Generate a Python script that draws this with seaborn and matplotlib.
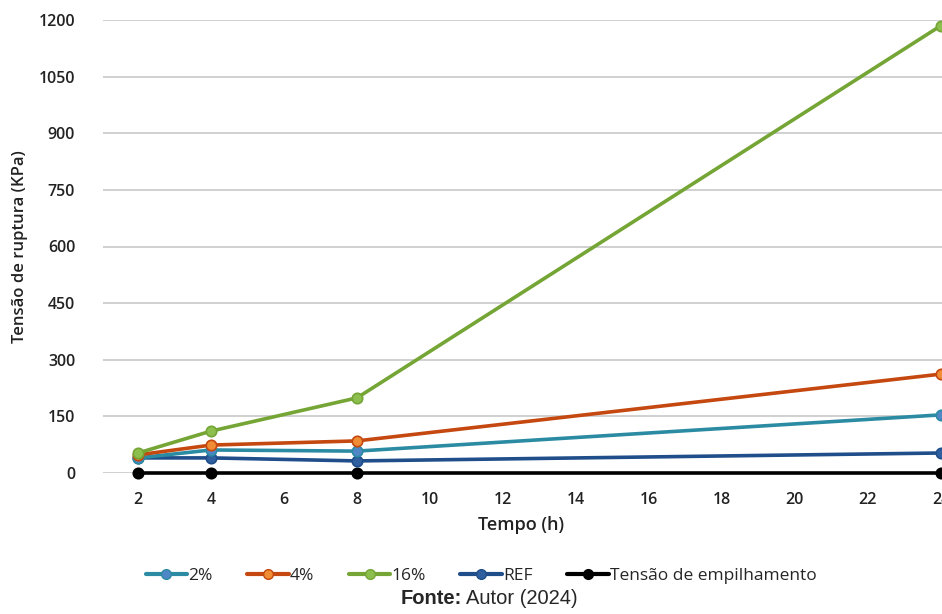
import matplotlib
matplotlib.use("Agg")
import matplotlib.pyplot as plt
import seaborn as sns
import pandas as pd

# ── data ───────────────────────────────────────────────────────────────────────
tempo = [2, 4, 8, 24]
s_2pct = [40, 61, 58, 154]
s_4pct = [48, 74, 85, 262]
s_16pct = [53, 111, 199, 1185]
s_ref = [40, 40, 32, 53]
s_empilh = [0, 0, 0, 0]

series_names = ["2%", "4%", "16%", "REF", "Tensão de empilhamento"]
line_colors = ["#2b8ba3", "#c4480f", "#74a535", "#1f4e8a", "#000000"]
marker_colors = ["#4f86c6", "#f08c34", "#8cbf4e", "#2f5f9e", "#000000"]

x_ticks = list(range(2, 25, 2))
y_ticks = list(range(0, 1201, 150))

df = pd.DataFrame({
    "Tempo": tempo * 5,
    "Tensao": s_2pct + s_4pct + s_16pct + s_ref + s_empilh,
    "Serie": [n for n in series_names for _ in tempo],
})

sns.set_style("white")
plt.rcParams["font.family"] = ["Open Sans", "DejaVu Sans"]

fig = plt.figure(figsize=(9.42, 6.14), dpi=100)
ax = fig.add_axes([103 / 942, 1 - 473 / 614, 1 - 103 / 942, (473 - 20) / 614])

# draw order: black baseline first, then REF, 2%, 4%, 16% on top
order = ["Tensão de empilhamento", "REF", "2%", "4%", "16%"]
for name in order:
    i = series_names.index(name)
    sub = df[df["Serie"] == name]
    sns.lineplot(
        data=sub, x="Tempo", y="Tensao", ax=ax,
        color=line_colors[i], lw=2.6, marker="o", markersize=7.5,
        markerfacecolor=marker_colors[i], markeredgecolor=line_colors[i],
        markeredgewidth=1.2, clip_on=False, zorder=3, legend=False,
    )

ax.set_xlim(1.04, 24.03)
ax.set_ylim(0, 1200)
ax.set_xticks(x_ticks)
ax.set_yticks(y_ticks)
ax.yaxis.grid(True, color="#c8c8c8", lw=1.2)
ax.xaxis.grid(False)
for sp in ax.spines.values():
    sp.set_visible(False)
ax.tick_params(axis="both", length=0, labelsize=11.5, labelcolor="#222222")
ax.tick_params(axis="y", pad=20)
ax.tick_params(axis="x", pad=14)
for lab in ax.get_xticklabels() + ax.get_yticklabels():
    lab.set_fontweight("semibold")
ax.set_xlabel("")
ax.set_ylabel("")

fig.text(20 / 942, 1 - 247 / 614, "Tensão de ruptura (KPa)", rotation=90,
         ha="center", va="center", fontsize=12, fontweight="semibold", color="#222222")
fig.text(521 / 942, 1 - 525 / 614, "Tempo (h)", ha="center", va="center",
         fontsize=13, fontweight="semibold", color="#222222")

# legend in original series order
handles = []
for i, name in enumerate(series_names):
    h, = ax.plot([], [], color=line_colors[i], lw=3, marker="o", markersize=7,
                 markerfacecolor=marker_colors[i], markeredgecolor=line_colors[i])
    handles.append(h)
fig.legend(handles, series_names, loc="center", bbox_to_anchor=(481 / 942, 1 - 576 / 614),
           ncol=5, frameon=False, fontsize=12.5, handlelength=2.4, handletextpad=0.05,
           columnspacing=2.0)

fig.text(462 / 942, 1 - 599 / 614, "Fonte:", ha="right", va="center",
         fontsize=14.5, fontweight="bold", family="Liberation Sans")
fig.text(466 / 942, 1 - 599 / 614, "Autor (2024)", ha="left", va="center",
         fontsize=14.5, family="Liberation Sans")

fig.savefig("out.png", dpi=100)
